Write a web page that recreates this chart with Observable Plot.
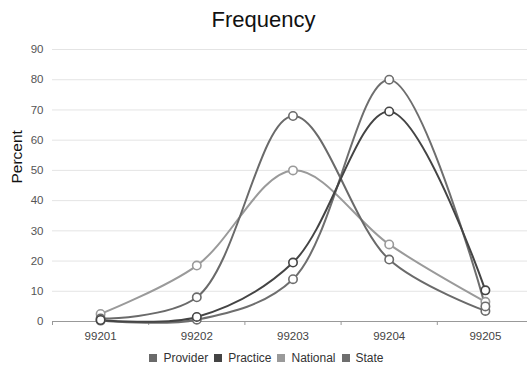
<!DOCTYPE html>
<html>
<head>
<meta charset="utf-8">
<script src="https://cdn.jsdelivr.net/npm/d3@7"></script>
<script src="https://cdn.jsdelivr.net/npm/@observablehq/plot@0.6"></script>
<style>
  body { margin: 0; background: #fff; font-family: "Liberation Sans", Arial, sans-serif; }
  #wrap { width: 527px; height: 370px; overflow: hidden; position: relative; }
  #title { height: 36px; line-height: 40px; text-align: center; font-size: 22px; color: #111; padding-left: 0; }
  #legend { display: flex; justify-content: center; align-items: center; height: 24px; font-size: 12px; color: #333; margin-left: 6px; }
  #legend .item { display: flex; align-items: center; margin: 0 3px; }
  #legend .sw { width: 8px; height: 8px; margin-right: 6px; }
  svg { display: block; overflow: hidden; }
</style>
</head>
<body>
<div id="wrap">
  <div id="title">Frequency</div>
  <div id="chart"></div>
  <div id="legend"></div>
</div>
<script>
const codes = ["99201", "99202", "99203", "99204", "99205"];
const seriesNames = ["Provider", "Practice", "National", "State"];
const seriesColors = ["#6a6a6a", "#444444", "#9a9a9a", "#6e6e6e"];
const provider = [1, 8, 68, 20.5, 3.5];
const practice = [0.5, 1.5, 19.5, 69.5, 10.3];
const national = [2.5, 18.5, 50, 25.5, 6.5];
const state = [0.3, 0.6, 14, 80, 5];
const yTicks = [0, 10, 20, 30, 40, 50, 60, 70, 80, 90];

const values = [provider, practice, national, state];
const rows = [];
values.forEach((arr, s) => arr.forEach((v, i) => rows.push({series: seriesNames[s], i, code: codes[i], value: v})));
const edges = codes.map((c, i) => i - 0.5);
const drawOrder = ["National", "Provider", "State", "Practice"];
const colorOf = Object.fromEntries(seriesNames.map((n, k) => [n, seriesColors[k]]));

const marks = [
  Plot.ruleY(yTicks.filter(t => t > 0), {stroke: "#e4e4e4", strokeWidth: 1}),
  Plot.axisY({ticks: yTicks, tickSize: 0, tickPadding: 9, fontSize: 11.5, color: "#555", label: null}),
  Plot.axisX({ticks: edges, tickSize: 4, tickFormat: () => "", stroke: "#999", label: null}),
  Plot.axisX({ticks: codes.map((c, i) => i), tickSize: 0, tickPadding: 10, tickFormat: i => codes[i], fontSize: 11.5, color: "#444", label: null}),
  Plot.ruleY([0], {stroke: "#999", strokeWidth: 1.2}),
  Plot.text(["Percent"], {frameAnchor: "left", dx: -35, dy: -2, rotate: -90, fontSize: 15.5, fill: "#111", text: d => d})
];
for (const name of drawOrder) {
  const d = rows.filter(r => r.series === name);
  marks.push(Plot.line(d, {x: "i", y: "value", stroke: colorOf[name], strokeWidth: 2, curve: "catmull-rom"}));
}
for (const name of drawOrder) {
  const d = rows.filter(r => r.series === name);
  marks.push(Plot.dot(d, {x: "i", y: "value", r: 4.2, fill: "white", stroke: colorOf[name], strokeWidth: 1.6}));
}

const chart = Plot.plot({
  width: 527,
  height: 310,
  marginTop: 13,
  marginBottom: 25,
  marginLeft: 52,
  marginRight: 0,
  style: {fontFamily: "'Liberation Sans', Arial, sans-serif", background: "white"},
  x: {type: "linear", domain: [-0.5, 4.5], range: [52, 533]},
  y: {domain: [0, 90]},
  marks
});
document.getElementById("chart").appendChild(chart);

const legend = document.getElementById("legend");
seriesNames.forEach((n, k) => {
  const item = document.createElement("div");
  item.className = "item";
  item.innerHTML = `<div class="sw" style="background:${seriesColors[k]}"></div><span>${n}</span>`;
  legend.appendChild(item);
});
</script>
</body>
</html>
